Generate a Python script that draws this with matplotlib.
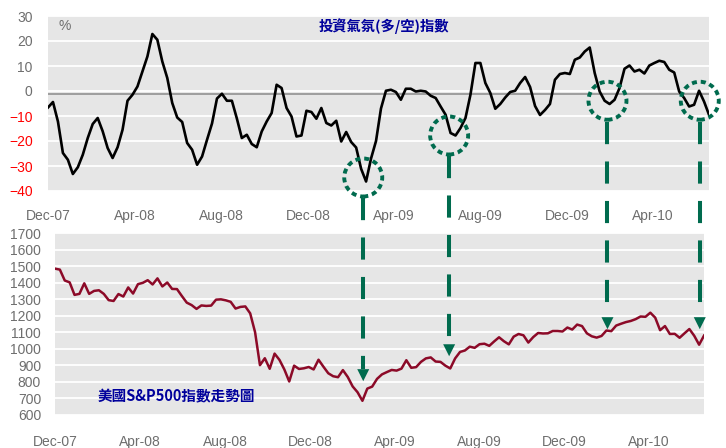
import matplotlib
matplotlib.use('Agg')
import matplotlib.pyplot as plt
import matplotlib.dates as mdates
from matplotlib.patches import Circle, Polygon
from matplotlib.lines import Line2D
from matplotlib.transforms import IdentityTransform
import pandas as pd

# ---------------- data ----------------
start_date = '2007-12-21'          # weekly observations (Fridays)
sentiment = [
    -6.6, -4.4, -12.2, -24.8, -27.5, -33.2, -30.5, -25.5, -18.8, -13.2,
    -10.8, -16.1, -22.8, -26.8, -22.5, -15.5, -3.9, -1.5, 1.8, 7.8,
    13.8, 22.8, 20.5, 11.8, 5.2, -4.8, -10.6, -12.4, -20.8, -23.5,
    -29.5, -26.2, -19.5, -13.0, -3.0, -1.1, -3.9, -3.9, -11.0, -18.8,
    -17.5, -21.2, -22.5, -16.2, -12.2, -8.8, 2.5, 1.2, -6.8, -10.2,
    -18.2, -17.8, -7.9, -8.4, -11.1, -6.8, -12.8, -13.8, -11.9, -20.2,
    -16.4, -20.4, -22.6, -31.1, -36.2, -27.0, -20.0, -7.0, 0.1, 0.5,
    -0.4, -3.5, 0.9, 0.9, -0.2, 0.1, -0.2, -1.9, -2.8, -6.2,
    -9.5, -16.8, -17.8, -14.8, -10.8, -1.5, 11.2, 11.2, 3.2, -0.8,
    -7.1, -5.2, -2.6, -0.4, 0.1, 3.2, 5.6, 1.6, -6.0, -9.6,
    -7.6, -5.2, 4.5, 6.8, 7.2, 6.8, 12.5, 13.4, 15.8, 17.4,
    7.2, -0.2, -3.9, -5.2, -3.5, 1.2, 8.9, 10.2, 7.8, 8.5,
    7.0, 10.2, 11.2, 12.1, 11.6, 8.5, 7.4, -0.2, -2.8, -6.2,
    -5.5, 0.1, -4.2, -9.5,
]
sp500 = [
    1484, 1478, 1412, 1401, 1325, 1331, 1395, 1331, 1349, 1353,
    1331, 1293, 1288, 1330, 1315, 1370, 1333, 1390, 1398, 1414,
    1388, 1425, 1376, 1400, 1361, 1360, 1318, 1278, 1263, 1240,
    1261, 1258, 1260, 1296, 1298, 1292, 1283, 1242, 1252, 1255,
    1213, 1099, 899, 941, 877, 969, 931, 873, 800, 896,
    876, 880, 888, 873, 932, 890, 850, 832, 826, 869,
    827, 770, 735, 683, 757, 769, 816, 843, 857, 870,
    866, 878, 929, 883, 887, 919, 940, 946, 921, 919,
    896, 879, 940, 979, 988, 1011, 1004, 1026, 1029, 1016,
    1043, 1068, 1044, 1025, 1072, 1088, 1080, 1036, 1069, 1094,
    1091, 1092, 1106, 1106, 1103, 1127, 1115, 1145, 1136, 1092,
    1074, 1066, 1076, 1109, 1105, 1139, 1150, 1160, 1167, 1178,
    1194, 1192, 1217, 1187, 1111, 1136, 1088, 1089, 1065, 1092,
    1118, 1077, 1023, 1078,
]
tick_labels = ['Dec-07', 'Apr-08', 'Aug-08', 'Dec-08', 'Apr-09', 'Aug-09', 'Dec-09', 'Apr-10']
sentiment_ticks = [-40, -30, -20, -10, 0, 10, 20, 30]
sp500_ticks = [600, 700, 800, 900, 1000, 1100, 1200, 1300, 1400, 1500, 1600, 1700]

# buy signals: sentiment dips circled, arrows down to the S&P 500
signal_dates = ['2009-03-09', '2009-07-08', '2010-02-16', '2010-06-26']
signal_sentiment = [-34.6, -17.8, -3.9, -3.9]
signal_sp500 = [802, 953, 1117, 1117]

title_top = '投資氣氛(多/空)指數'
title_bottom = '美國S&P500指數走勢圖'

# ---------------- style ----------------
plt.rcParams['font.family'] = ['Liberation Sans', 'Noto Sans CJK TC', 'DejaVu Sans']
BG = '#E6E6E6'
GRAY_TXT = '#6E6E6E'
GREEN = '#006B4E'
NAVY = '#00009C'

dates = pd.date_range(start_date, periods=len(sp500), freq='7D')
tick_dates = pd.date_range(start_date, periods=len(tick_labels), freq=pd.DateOffset(months=4))

W, H = 726, 448
fig = plt.figure(figsize=(W / 100, H / 100), dpi=100)
ax1 = fig.add_axes([48 / W, (H - 191) / H, 661 / W, 175 / H])
ax2 = fig.add_axes([55 / W, (H - 414.5) / H, 649 / W, 181.5 / H])

for ax in (ax1, ax2):
    ax.set_facecolor(BG)
    for s in ax.spines.values():
        s.set_visible(False)
    ax.grid(axis='y', color='white', linewidth=1.3)
    ax.set_axisbelow(True)
    ax.set_xlim(dates[0], dates[-1])
    ax.set_xticks(tick_dates)
    ax.set_xticklabels(tick_labels)
    ax.tick_params(length=0, labelsize=10, labelcolor=GRAY_TXT)

ax1.tick_params(axis='x', pad=13)
ax1.tick_params(axis='y', pad=11)
ax2.tick_params(axis='x', pad=14.5)
ax2.tick_params(axis='y', pad=10)

# top: sentiment index
ax1.set_ylim(-40, 30)
ax1.set_yticks(sentiment_ticks)
ax1.axhline(-1.1, color='#8A8A8A', linewidth=1.1, zorder=1.5)
ax1.plot(dates, sentiment, color='black', linewidth=1.9, zorder=3)
for lab, v in zip(ax1.get_yticklabels(), sentiment_ticks):
    lab.set_color('#FF0000' if v < 0 else GRAY_TXT)
ax1.text(0.016, 0.985, '%', transform=ax1.transAxes, fontsize=10,
         color=GRAY_TXT, va='top', ha='left')
ax1.text(0.508, 0.945, title_top, transform=ax1.transAxes, ha='center', va='center',
         fontsize=10.3, fontweight='bold', color=NAVY,
         family=['Noto Sans CJK TC', 'DejaVu Sans'])

# bottom: S&P 500
ax2.set_ylim(600, 1700)
ax2.set_yticks(sp500_ticks)
ax2.plot(dates, sp500, color='#8C0A28', linewidth=1.8, zorder=3)
ax2.text(0.066, 0.10, title_bottom, transform=ax2.transAxes, ha='left', va='center',
         fontsize=10.5, fontweight='bold', color=NAVY,
         family=['Noto Sans CJK TC', 'DejaVu Sans'])

# ---------------- signal annotations (display coords) ----------------
R = 19          # circle radius px
HEAD = 12       # arrow head size px
ident = IdentityTransform()
for d, sv, pv in zip(signal_dates, signal_sentiment, signal_sp500):
    xn = mdates.date2num(pd.Timestamp(d))
    cx, cy = ax1.transData.transform((xn, sv))
    _, ty = ax2.transData.transform((mdates.date2num(dates[0]), pv))
    fig.add_artist(Circle((cx, cy), R, transform=ident, fill=False, edgecolor=GREEN,
                          linewidth=2.8, linestyle=(0, (1.3, 1.0)), zorder=5))
    y0 = cy - R - 2
    y1 = ty + HEAD
    fig.add_artist(Line2D([cx, cx], [y0, y1], transform=ident, color=GREEN,
                          linewidth=2.9, dashes=(5.5, 4.3), solid_capstyle='butt',
                          dash_capstyle='butt', zorder=5))
    fig.add_artist(Polygon([(cx - HEAD / 2, y1), (cx + HEAD / 2, y1), (cx, ty)],
                           closed=True, transform=ident, facecolor=GREEN,
                           edgecolor='none', zorder=5))

fig.savefig('out.png', dpi=100)
